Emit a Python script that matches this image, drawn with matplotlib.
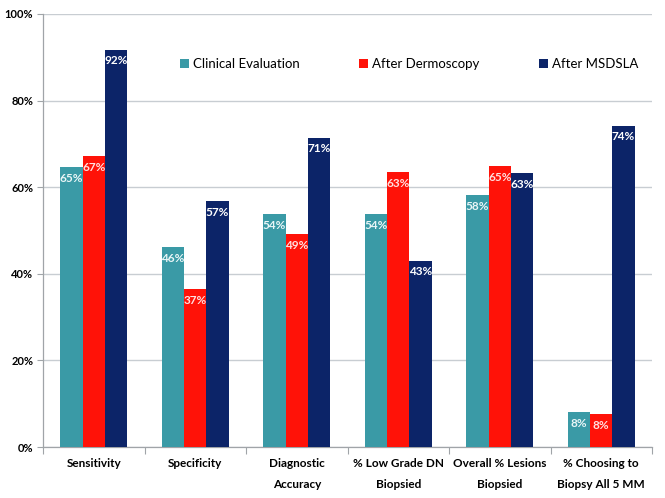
import numpy as np
import matplotlib.pyplot as plt
from matplotlib.ticker import FixedLocator

plt.rcParams['font.family'] = ['Lato', 'DejaVu Sans']

categories = [
    "Sensitivity",
    "Specificity",
    "Diagnostic\nAccuracy",
    "% Low Grade DN\nBiopsied",
    "Overall % Lesions\nBiopsied",
    "% Choosing to\nBiopsy All 5 MM",
]
series_names = ["Clinical Evaluation", "After Dermoscopy", "After MSDSLA"]
clinical = [64.6, 46.2, 53.8, 53.8, 58.2, 8.0]
dermoscopy = [67.2, 36.5, 49.2, 63.4, 64.9, 7.6]
msdsla = [91.7, 56.7, 71.4, 43.0, 63.2, 74.2]
labels_clinical = ["65%", "46%", "54%", "54%", "58%", "8%"]
labels_dermoscopy = ["67%", "37%", "49%", "63%", "65%", "8%"]
labels_msdsla = ["92%", "57%", "71%", "43%", "63%", "74%"]

colors = ['#3A9AA6', '#FF1208', '#0C2468']
label_colors = ['#EAF6F7', '#FFE0E0', '#FFFFFF']

fig = plt.figure(figsize=(6.65, 4.98), dpi=100)
ax = fig.add_axes([0.0647, 0.1024, 0.9158, 0.8695])

x = np.arange(len(categories))
w = 0.22
all_vals = [clinical, dermoscopy, msdsla]
all_labels = [labels_clinical, labels_dermoscopy, labels_msdsla]

for i, (vals, labs) in enumerate(zip(all_vals, all_labels)):
    xs = x + (i - 1) * w
    ax.bar(xs, vals, width=w, color=colors[i], label=series_names[i], zorder=3)
    for xi, yi, lab in zip(xs, vals, labs):
        ax.annotate(lab, (xi, yi), xytext=(0, -4), textcoords='offset points',
                    ha='center', va='top', fontsize=8.5, fontweight='bold',
                    color=label_colors[i], zorder=4)

ax.set_xlim(-0.5, 5.5)
ax.set_ylim(0, 100)

ax.set_yticks(np.arange(0, 101, 20))
ax.set_yticklabels([f"{v}%" for v in range(0, 101, 20)], fontsize=8, fontweight='bold')
ax.grid(axis='y', color='#C8CDD2', linewidth=1.0, zorder=0)
ax.set_axisbelow(True)

ax.set_xticks(x)
ax.set_xticklabels(categories, fontsize=8.5, fontweight='bold', linespacing=2.05)
ax.xaxis.set_minor_locator(FixedLocator(np.arange(-0.5, 6.0, 1.0)))
ax.tick_params(axis='x', which='major', length=0, pad=8)
ax.tick_params(axis='x', which='minor', length=5, color='#A0A4A8', width=0.8)
ax.tick_params(axis='y', which='major', length=4, color='#A0A4A8', width=0.8, pad=3)

for s in ['top', 'right']:
    ax.spines[s].set_visible(False)
for s in ['left', 'bottom']:
    ax.spines[s].set_color('#A0A4A8')
    ax.spines[s].set_linewidth(0.9)

ax.legend(loc='upper left', bbox_to_anchor=(0.205, 0.925), ncol=3, frameon=False,
          fontsize=9.5, handlelength=0.7, handleheight=0.7, handletextpad=0.3,
          columnspacing=4.5)

fig.savefig('out.png', dpi=100)
